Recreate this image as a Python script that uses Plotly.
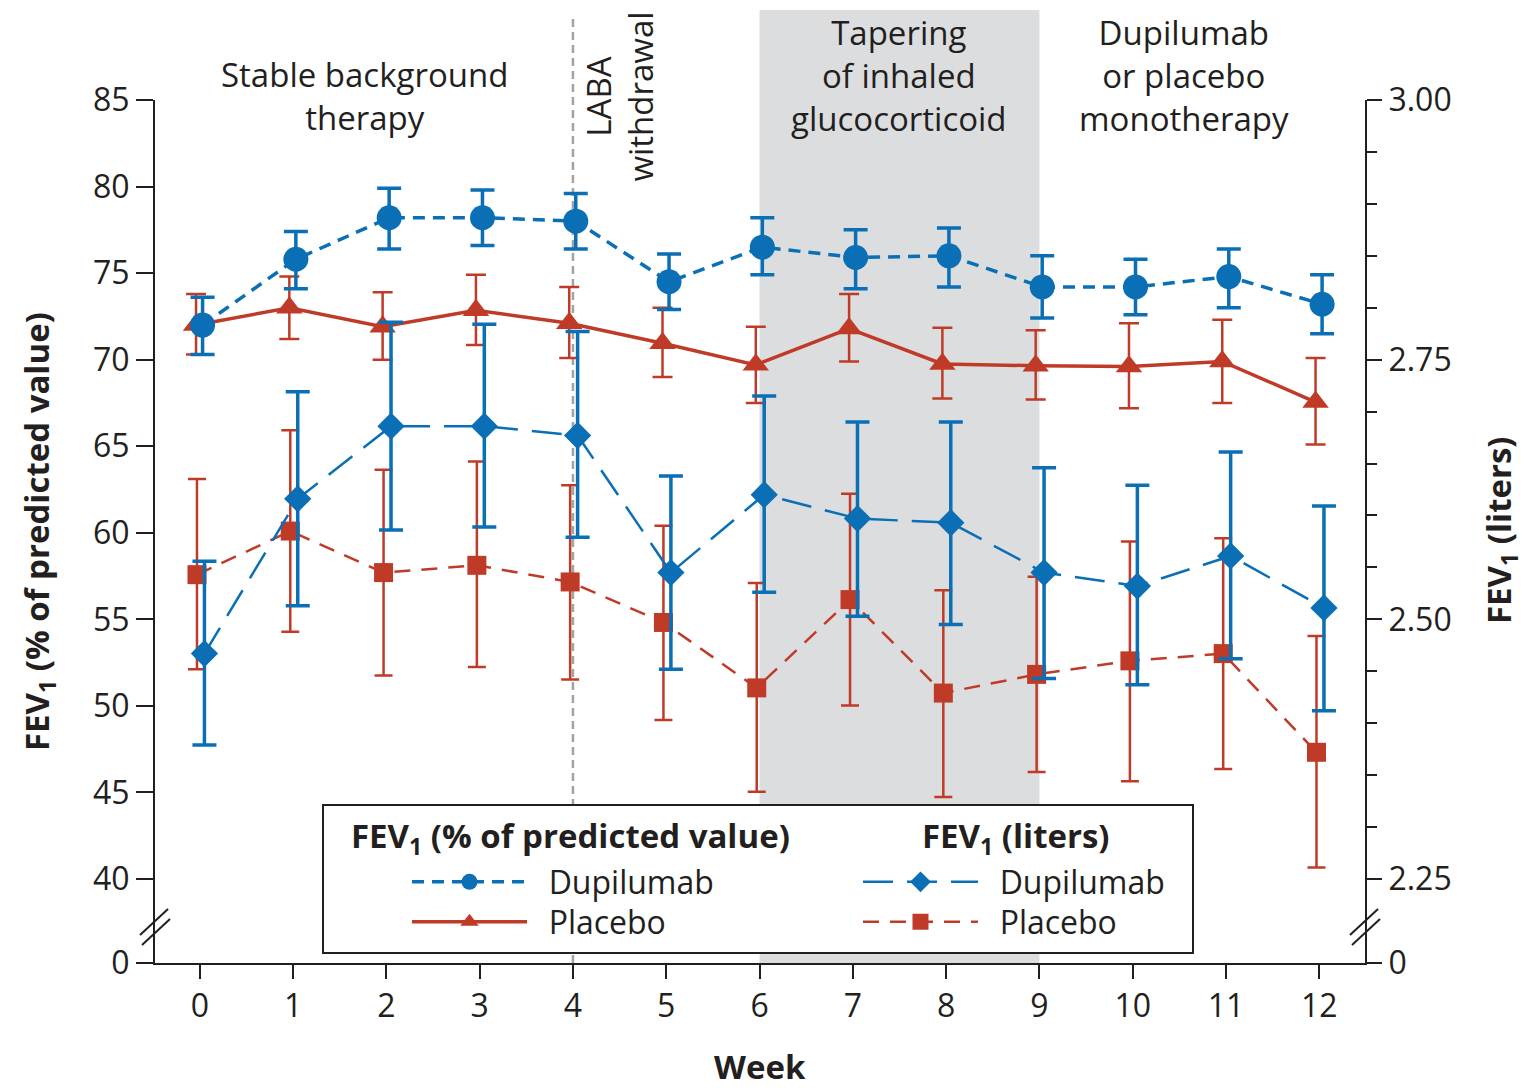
import plotly.graph_objects as go

# FEV1 over the 12-week study
weeks = list(range(13))

dup_pct = [72.0, 75.8, 78.2, 78.2, 78.0, 74.5, 76.5, 75.9, 76.0, 74.2, 74.2, 74.8, 73.2]
dup_pct_hi = [73.6, 77.4, 79.9, 79.8, 79.6, 76.1, 78.2, 77.5, 77.6, 76.0, 75.8, 76.4, 74.9]
dup_pct_lo = [70.3, 74.1, 76.4, 76.6, 76.4, 72.9, 74.9, 74.1, 74.2, 72.4, 72.6, 73.0, 71.5]

pla_pct = [72.0, 73.0, 71.9, 72.85, 72.1, 70.95, 69.7, 71.8, 69.75, 69.65, 69.6, 69.9, 67.55]
pla_pct_hi = [73.8, 74.8, 73.9, 74.9, 74.2, 73.0, 71.9, 73.8, 71.85, 71.7, 72.1, 72.3, 70.1]
pla_pct_lo = [70.3, 71.2, 70.0, 70.85, 70.1, 69.0, 67.5, 69.9, 67.75, 67.7, 67.2, 67.5, 65.1]

dup_lit = [2.467, 2.616, 2.686, 2.686, 2.677, 2.545, 2.620, 2.597, 2.593, 2.545, 2.532, 2.561, 2.511]
dup_lit_hi = [2.556, 2.719, 2.786, 2.784, 2.777, 2.638, 2.715, 2.690, 2.690, 2.646, 2.629, 2.661, 2.609]
dup_lit_lo = [2.379, 2.513, 2.586, 2.589, 2.579, 2.452, 2.526, 2.503, 2.495, 2.443, 2.437, 2.462, 2.412]

pla_lit = [2.543, 2.585, 2.545, 2.552, 2.536, 2.497, 2.434, 2.519, 2.429, 2.447, 2.460, 2.467, 2.372]
pla_lit_hi = [2.635, 2.682, 2.644, 2.652, 2.629, 2.590, 2.535, 2.621, 2.528, 2.541, 2.575, 2.578, 2.484]
pla_lit_lo = [2.452, 2.488, 2.446, 2.454, 2.442, 2.403, 2.334, 2.417, 2.329, 2.353, 2.344, 2.356, 2.261]

pct_ticks = [40, 45, 50, 55, 60, 65, 70, 75, 80, 85]
lit_ticks = [2.25, 2.50, 2.75, 3.00]
lit_minor = [2.30, 2.35, 2.40, 2.45, 2.55, 2.60, 2.65, 2.70, 2.80, 2.85, 2.90, 2.95]

BLUE = "#0a6fb5"
RED = "#bf3b28"
INK = "#231f20"
FONT = "Open Sans"

# page pixels; the page body adds an 8px margin around the figure
W, H = 1527, 1088
PAGE = 8
L, R, T, B = 155, 1365, 100, 963   # plot area as seen on the page
BREAK_PX = 84                       # gap between the "0" tick and the first real tick
FW, FH = W - PAGE, H - PAGE


def px(x):
    return (x - L) / (R - L)


def py(y):
    return (B - y) / (B - T)


pct_span = (B - BREAK_PX - T) / (pct_ticks[-1] - pct_ticks[0])
pct_low = pct_ticks[0] - BREAK_PX / pct_span
lit_span = (B - BREAK_PX - T) / (lit_ticks[-1] - lit_ticks[0])
lit_low = lit_ticks[0] - BREAK_PX / lit_span


def err(mid, hi, lo):
    return dict(type="data", symmetric=False,
                array=[h - m for h, m in zip(hi, mid)],
                arrayminus=[m - l for m, l in zip(mid, lo)])


def shift(d):
    return [w + d for w in weeks]


GAP = "\u00a0\u00a0"
fig = go.Figure()

fig.add_trace(go.Scatter(
    x=shift(-0.03), y=pla_lit, yaxis="y2", name=GAP + "Placebo", legend="legend4",
    mode="lines+markers", showlegend=True,
    line=dict(color=RED, width=2.5, dash="16px,11px"),
    marker=dict(symbol="square", size=19, color=RED),
    error_y=dict(**err(pla_lit, pla_lit_hi, pla_lit_lo), color=RED, thickness=2.5, width=9),
))
fig.add_trace(go.Scatter(
    x=shift(0.05), y=dup_lit, yaxis="y2", name=GAP + "Dupilumab", legend="legend3",
    mode="lines+markers", showlegend=True,
    line=dict(color=BLUE, width=2.5, dash="30px,14px"),
    marker=dict(symbol="diamond", size=21, color=BLUE),
    error_y=dict(**err(dup_lit, dup_lit_hi, dup_lit_lo), color=BLUE, thickness=3.5, width=12),
))
fig.add_trace(go.Scatter(
    x=shift(-0.04), y=pla_pct, name=GAP + "Placebo", legend="legend2",
    mode="lines+markers", showlegend=True,
    line=dict(color=RED, width=3.5),
    marker=dict(symbol="triangle-up", size=23, color=RED),
    error_y=dict(**err(pla_pct, pla_pct_hi, pla_pct_lo), color=RED, thickness=2.5, width=10),
))
fig.add_trace(go.Scatter(
    x=shift(0.03), y=dup_pct, name=GAP + "Dupilumab", legend="legend",
    mode="lines+markers", showlegend=True,
    line=dict(color=BLUE, width=3.5, dash="12px,8px"),
    marker=dict(symbol="circle", size=25, color=BLUE),
    error_y=dict(**err(dup_pct, dup_pct_hi, dup_pct_lo), color=BLUE, thickness=3.5, width=12),
))

shapes = [
    # inhaled glucocorticoid taper window
    dict(type="rect", xref="x", yref="paper", x0=6, x1=9, y0=0, y1=py(10),
         fillcolor="#dcdddf", line_width=0, layer="below"),
    # LABA withdrawal marker
    dict(type="line", xref="x", yref="paper", x0=4, x1=4, y0=0, y1=py(15),
         line=dict(color="#a3a3a3", width=2.5, dash="8px,5px"), layer="below"),
    # legend box
    dict(type="rect", xref="paper", yref="paper", x0=px(323), x1=px(1193),
         y0=py(953), y1=py(805), fillcolor="white",
         line=dict(color=INK, width=2), layer="above"),
]
# axis break slashes on both y axes
for ax in (L, R):
    for dx, dy in ((-1, 0), (1, 10)):
        shapes.append(dict(type="line", xref="paper", yref="paper",
                           x0=px(ax - 14 + dx), y0=py(935 + dy),
                           x1=px(ax + 14 + dx), y1=py(909 + dy),
                           line=dict(color=INK, width=2)))

txt = dict(family=FONT, size=33, color=INK)
bold = dict(family=FONT, size=33, color=INK, weight="bold")


def note(text, x, y, xref="paper", font=txt, angle=0):
    return dict(text=text, x=x, xref=xref, y=y, yref="paper", showarrow=False,
                font=font, textangle=angle, xanchor="center", yanchor="middle")


annotations = [
    note("Stable background<br>therapy", 1.77, py(96), xref="x"),
    note("LABA<br>withdrawal", 4.5, py(97), xref="x", angle=-90),
    note("Tapering<br>of inhaled<br>glucocorticoid", 7.5, py(75), xref="x"),
    note("Dupilumab<br>or placebo<br>monotherapy", 10.55, py(75), xref="x"),
    note("Week", 0.5, py(1066), font=bold),
    note("FEV<sub>1</sub> (% of predicted value)", px(38), py(532), font=bold, angle=-90),
    note("FEV<sub>1</sub> (liters)", px(1500), py(530), font=bold, angle=-90),
    # legend column headers
    note("FEV<sub>1</sub> (% of predicted value)", px(570), py(837), font=bold),
    note("FEV<sub>1</sub> (liters)", px(1016), py(837), font=bold),
]

axis_common = dict(showline=True, linecolor=INK, linewidth=2, ticks="outside",
                   tickcolor=INK, tickwidth=2, showgrid=False, zeroline=False,
                   tickfont=dict(family=FONT, size=32, color=INK))


def legend_at(x, y):
    return dict(bgcolor="rgba(0,0,0,0)", itemwidth=115, visible=True,
                font=dict(family=FONT, size=32, color=INK),
                xanchor="left", yanchor="middle", x=px(x - 8), y=py(y),
                itemclick=False, itemdoubleclick=False)


fig.update_layout(
    width=FW, height=FH,
    margin=dict(l=L - PAGE, r=W - R, t=T - PAGE, b=H - B),
    plot_bgcolor="white", paper_bgcolor="white",
    showlegend=True,
    font=dict(family=FONT, color=INK),
    xaxis=dict(axis_common, range=[-0.48, 12.49], tickvals=weeks, ticklen=14),
    yaxis=dict(axis_common, range=[pct_low, pct_ticks[-1]], ticklen=17,
               tickvals=[pct_low] + pct_ticks,
               ticktext=["0"] + [str(v) for v in pct_ticks]),
    yaxis2=dict(axis_common, range=[lit_low, lit_ticks[-1]], ticklen=15,
                overlaying="y", side="right",
                tickvals=[lit_low] + lit_ticks,
                ticktext=["0"] + ["%.2f" % v for v in lit_ticks],
                minor=dict(tickvals=lit_minor, ticklen=10, tickwidth=2,
                           tickcolor=INK, ticks="outside", showgrid=False)),
    legend=legend_at(415, 882),
    legend2=legend_at(415, 922),
    legend3=legend_at(866, 882),
    legend4=legend_at(866, 922),
    shapes=shapes,
    annotations=annotations,
)

fig.write_html("out.html")
